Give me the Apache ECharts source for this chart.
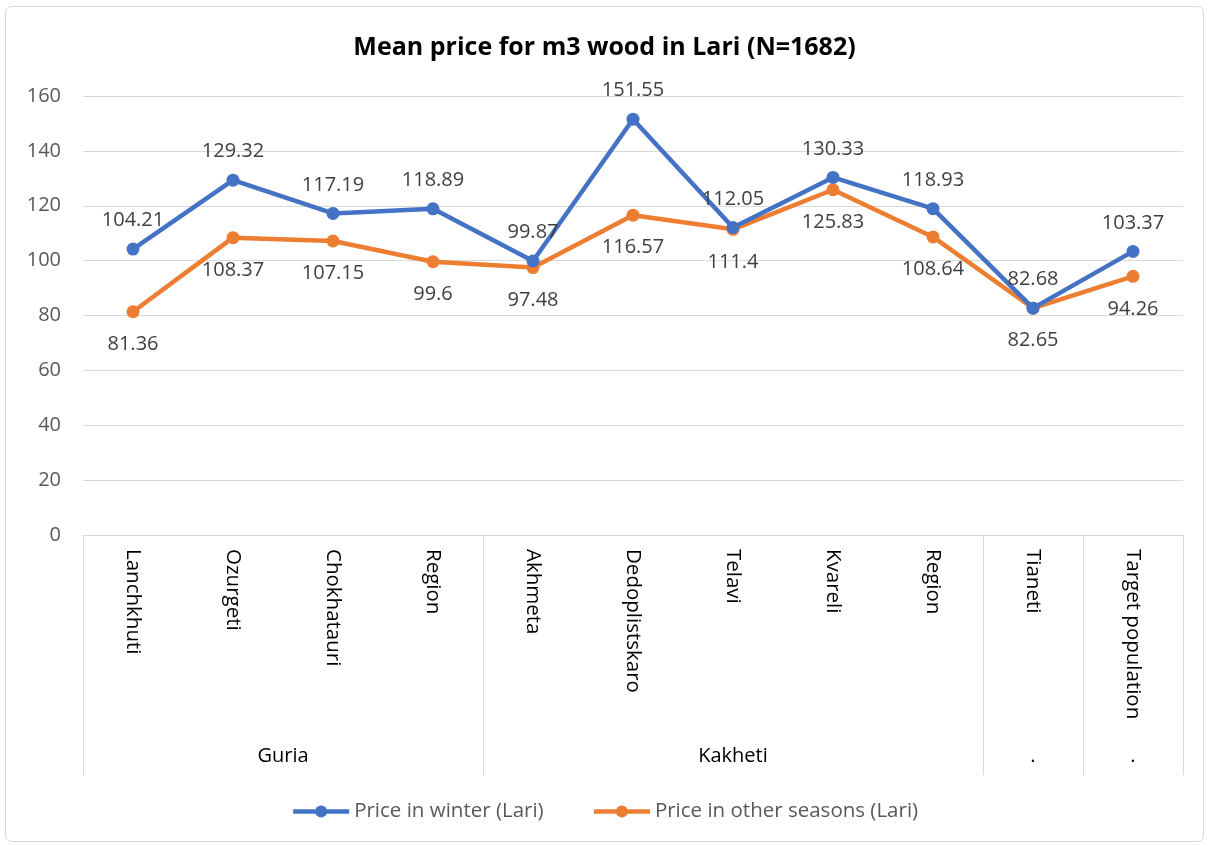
<!DOCTYPE html>
<html>
<head>
<meta charset="utf-8">
<script src="https://cdn.jsdelivr.net/npm/echarts@6/dist/echarts.min.js"></script>
<style>
html,body{margin:0;padding:0;background:#fff;}
#chart{width:1209px;height:846px;}
</style>
</head>
<body>
<div id="chart"></div>
<script>
var categories = ['Lanchkhuti','Ozurgeti','Chokhatauri','Region','Akhmeta','Dedoplistskaro','Telavi','Kvareli','Region','Tianeti','Target population'];
var winterPrices = [104.21,129.32,117.19,118.89,99.87,151.55,112.05,130.33,118.93,82.68,103.37];
var otherPrices = [81.36,108.37,107.15,99.6,97.48,116.57,111.4,125.83,108.64,82.65,94.26];
var groupNames = ['Guria','Kakheti','.','.'];
var groupSizes = [4,5,1,1];
var yTicks = [0,20,40,60,80,100,120,140,160];

var groupBounds = [0];
var groupCenters = [];
var acc = 0;
groupSizes.forEach(function(s){ groupCenters.push(acc + s/2); acc += s; groupBounds.push(acc); });

var FONT = '"Open Sans", sans-serif';
var chart = echarts.init(document.getElementById('chart'));
chart.setOption({
  animation:false,
  backgroundColor:'#fff',
  title:{
    text:'Mean price for m3 wood in Lari (N=1682)',
    left:'center', top:30,
    textStyle:{fontFamily:FONT,fontSize:25,fontWeight:'bold',color:'#000'}
  },
  graphic:[{
    type:'rect',
    shape:{x:5.5,y:6.5,width:1198,height:835,r:6},
    style:{fill:'none',stroke:'#d9d9d9',lineWidth:1},
    silent:true
  }],
  legend:{
    bottom:19,
    left:'center',
    itemWidth:56,
    itemHeight:15,
    itemGap:48,
    lineStyle:{width:4.5},
    textStyle:{fontFamily:FONT,fontSize:20.5,color:'#595959'},
    data:['Price in winter (Lari)','Price in other seasons (Lari)']
  },
  grid:{left:83,right:26,top:96,bottom:311},
  xAxis:[{
    type:'category',
    data:categories,
    boundaryGap:true,
    axisLine:{show:true,lineStyle:{color:'#d9d9d9',width:1}},
    axisTick:{show:false},
    axisLabel:{rotate:-90,margin:14,interval:0,fontFamily:FONT,fontSize:20.5,color:'#000'},
    splitLine:{show:false}
  },{
    type:'value',
    min:0,max:categories.length,
    position:'bottom',
    axisLine:{show:false},
    axisTick:{show:true,customValues:groupBounds,length:240,inside:false,lineStyle:{color:'#d9d9d9',width:1}},
    axisLabel:{
      customValues:groupCenters,
      margin:211,
      fontFamily:FONT,fontSize:20,color:'#000',
      formatter:function(v){ var i = groupCenters.indexOf(v); return i>=0 ? groupNames[i] : ''; }
    },
    splitLine:{show:false}
  }],
  yAxis:{
    type:'value',
    min:0,max:160,interval:20,
    axisLine:{show:false},
    axisTick:{show:false},
    axisLabel:{margin:22,fontFamily:FONT,fontSize:20,color:'#595959'},
    splitLine:{show:true,lineStyle:{color:'#d9d9d9',width:1}}
  },
  series:[{
    name:'Price in winter (Lari)',
    type:'line',
    data:winterPrices,
    color:'#4472C4',
    lineStyle:{width:4.5,color:'#4472C4'},
    symbol:'circle',symbolSize:13,
    itemStyle:{color:'#4472C4'},
    label:{show:true,position:'top',distance:12,fontFamily:FONT,fontSize:20,color:'#404040'},
    z:3
  },{
    name:'Price in other seasons (Lari)',
    type:'line',
    data:otherPrices,
    color:'#ED7D31',
    lineStyle:{width:4.5,color:'#ED7D31'},
    symbol:'circle',symbolSize:13,
    itemStyle:{color:'#ED7D31'},
    label:{show:true,position:'bottom',distance:16,fontFamily:FONT,fontSize:20,color:'#404040'},
    z:2
  }]
});
</script>
</body>
</html>
